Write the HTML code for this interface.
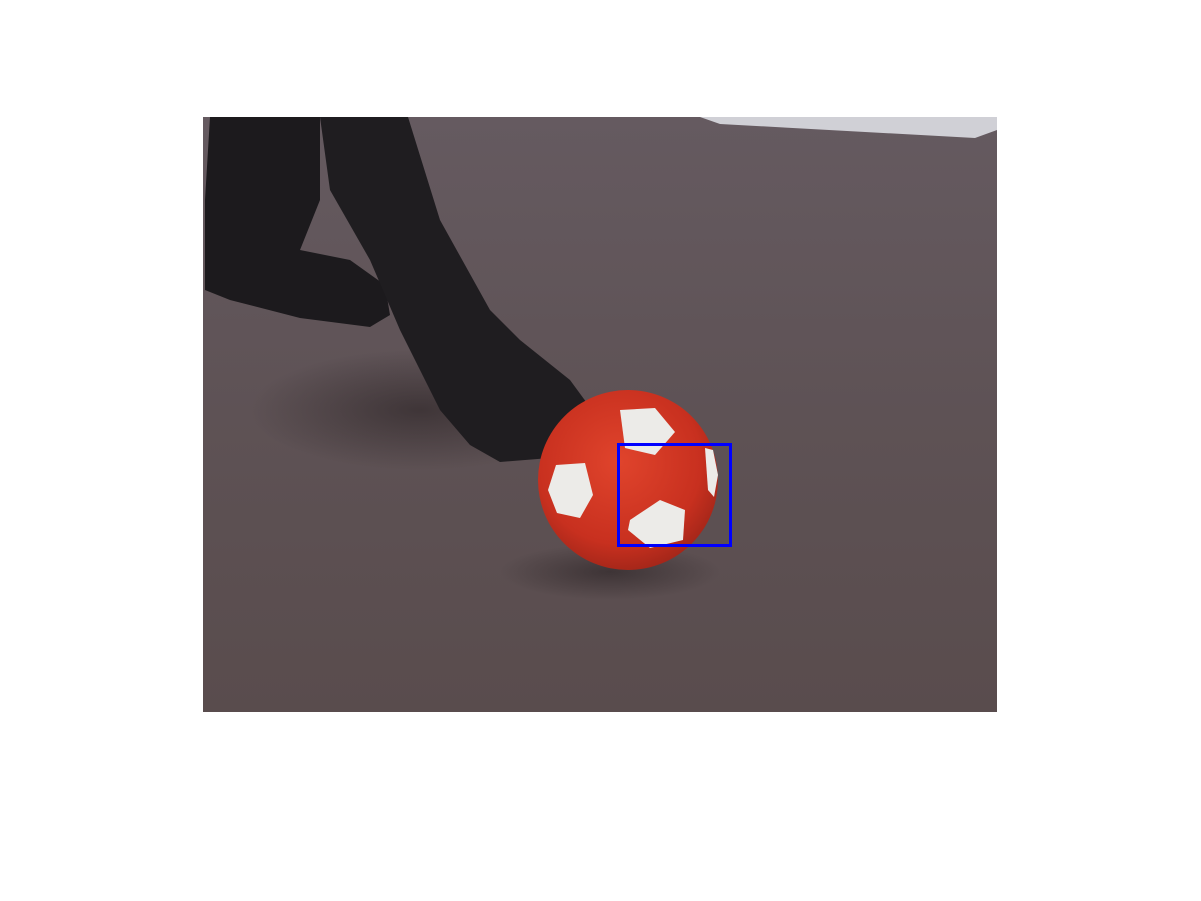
<!DOCTYPE html>
<html><head><meta charset="utf-8"><style>
html,body{margin:0;padding:0;background:#fff;width:1201px;height:901px;overflow:hidden}
svg{display:block}
</style></head><body>
<svg width="1201" height="901" viewBox="0 0 1201 901">
<defs>
<linearGradient id="carpet" x1="0" y1="0" x2="0" y2="1">
<stop offset="0" stop-color="#655a60"/><stop offset="0.5" stop-color="#5e5255"/><stop offset="1" stop-color="#594c4d"/>
</linearGradient>
<radialGradient id="ballg" cx="0.45" cy="0.4" r="0.65">
<stop offset="0" stop-color="#e0442c"/><stop offset="0.7" stop-color="#c8301f"/><stop offset="1" stop-color="#9c2418"/>
</radialGradient>
<radialGradient id="shadow" cx="0.5" cy="0.5" r="0.5">
<stop offset="0" stop-color="#2a2224" stop-opacity="0.6"/><stop offset="1" stop-color="#2a2224" stop-opacity="0"/>
</radialGradient>
</defs>
<g>
<rect x="203" y="117" width="794" height="595" fill="url(#carpet)"/>
<polygon points="700,117 997,117 997,130 975,138 720,124" fill="#d0d0d6"/>
<ellipse cx="420" cy="410" rx="170" ry="60" fill="url(#shadow)"/>
<ellipse cx="610" cy="572" rx="110" ry="28" fill="url(#shadow)"/>
<path d="M210,117 L320,117 L320,200 L300,250 L350,260 L385,285 L390,315 L370,327 L300,318 L230,300 L205,290 L205,200 Z" fill="#1c1a1d"/>
<path d="M320,117 L408,117 L440,220 L490,310 L520,340 L570,380 L592,410 L585,440 L550,458 L500,462 L470,445 L440,410 L420,370 L400,330 L370,260 L330,190 Z" fill="#1f1d20"/>
<g>
<circle cx="628" cy="480" r="90" fill="url(#ballg)"/>
<polygon points="620,410 655,408 675,432 655,455 625,448" fill="#ecebe8"/>
<polygon points="556,465 585,463 593,495 580,518 557,513 548,490" fill="#ecebe8"/>
<polygon points="630,520 660,500 685,510 683,540 650,548 628,530" fill="#ecebe8"/>
<polygon points="705,448 713,450 718,475 714,497 708,490" fill="#ecebe8"/>
</g>
</g>
<rect x="618.5" y="444.5" width="112" height="101" fill="none" stroke="#0000ff" stroke-width="3"/>
</svg>
</body></html>
